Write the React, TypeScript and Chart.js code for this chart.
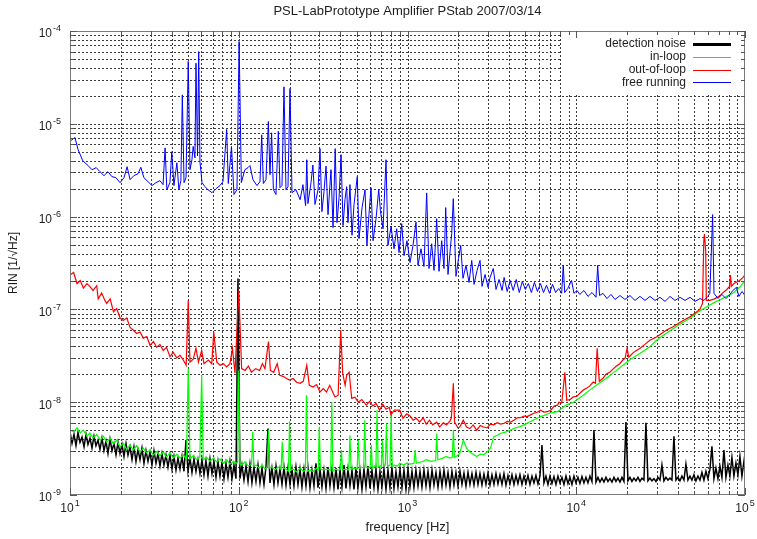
import React, { useEffect, useRef } from 'react';
import { Chart, registerables } from 'chart.js';

Chart.register(...registerables);

// ---- text ----
const chartTitle = 'PSL-LabPrototype Amplifier PStab 2007/03/14';
const xAxisTitle = 'frequency [Hz]';
const yAxisTitle = 'RIN [1/\u221AHz]';
const xDecades = [1, 2, 3, 4, 5]; // 10^1 .. 10^5 Hz
const yDecades = [-9, -8, -7, -6, -5, -4];
const seriesNames = ['detection noise', 'in-loop', 'out-of-loop', 'free running'];
const seriesColors = ['#000000', '#00ff00', '#ff0000', '#0000ff'];

// ---- detection noise: frequency bins [Hz] ----
const detectionFreq = [
  10, 10.28, 10.56, 10.85, 11.15, 11.46, 11.78, 12.11, 12.44, 12.78,
  13.14, 13.5, 13.87, 14.25, 14.65, 15.05, 15.47, 15.9, 16.34, 16.79,
  17.26, 17.74, 18.23, 18.73, 19.25, 19.78, 20.33, 20.89, 21.47, 22.06,
  22.67, 23.3, 23.94, 24.6, 25.29, 25.99, 26.7, 27.44, 28.2, 28.98,
  29.78, 30.6, 31.45, 32.32, 33.22, 34.14, 35.08, 36.05, 37.05, 38.08,
  39.13, 40.21, 41.32, 42.46, 43.64, 44.85, 46.09, 47.37, 48.67, 50.02,
  51.4, 52.82, 54.29, 55.79, 57.33, 58.92, 60.55, 62.23, 63.94, 65.71,
  67.53, 69.4, 71.32, 73.29, 75.32, 77.4, 79.54, 81.74, 84.0, 86.32,
  88.71, 91.16, 93.69, 96.28, 98.94, 101.7, 104.5, 107.4, 110.4, 113.5,
  116.5, 119.7, 123.1, 126.5, 130.0, 133.6, 137.3, 141.1, 145.0, 149.0,
  153.1, 157.3, 161.7, 166.2, 170.8, 175.5, 180.4, 185.4, 190.5, 195.8,
  201.2, 206.8, 212.4, 218.3, 224.4, 230.6, 236.9, 243.5, 250.2, 257.1,
  264.3, 271.6, 279.1, 286.8, 294.8, 303.0, 311.3, 319.9, 328.8, 337.9,
  347.2, 356.8, 366.7, 376.9, 387.3, 398.0, 409.0, 420.3, 431.9, 443.9,
  456.2, 468.8, 481.8, 495.1, 508.8, 522.9, 537.3, 552.2, 567.5, 583.2,
  599.3, 615.9, 632.9, 650.4, 668.4, 686.9, 705.9, 725.4, 745.5, 766.1,
  787.3, 809.1, 831.5, 854.5, 878.1, 902.4, 927.4, 953.1, 979.4, 1006.5,
  1034, 1063, 1092, 1122, 1154, 1186, 1218, 1252, 1287, 1323,
  1359, 1397, 1435, 1475, 1516, 1558, 1601, 1645, 1691, 1738,
  1785, 1834, 1885, 1937, 1991, 2046, 2103, 2161, 2221, 2283,
  2345, 2410, 2477, 2546, 2616, 2688, 2762, 2838, 2917, 2998,
  3081, 3166, 3254, 3344, 3436, 3531, 3629, 3729, 3833, 3939,
  4048, 4160, 4275, 4393, 4514, 4639, 4768, 4900, 5035, 5174,
  5318, 5465, 5616, 5771, 5931, 6095, 6263, 6436, 6615, 6798,
  6986, 7179, 7378, 7582, 7791, 8007, 8229, 8457, 8690, 8930,
  9177, 9431, 9692, 9960, 10236, 10519, 10810, 11109, 11416, 11732,
  12056, 12390, 12733, 13085, 13447, 13819, 14201, 14594, 14997, 15412,
  15838, 16276, 16727, 17190, 17665, 18154, 18655, 19171, 19702, 20247,
  20807, 21383, 21974, 22582, 23206, 23848, 24508, 25186, 25882, 26598,
  27334, 28090, 28867, 29666, 30486, 31329, 32196, 33087, 34002, 34943,
  35909, 36903, 37923, 38972, 40050, 41158, 42296, 43466, 44668, 45904,
  47173, 48478, 49819, 51197, 52613, 54069, 55564, 57102, 58680, 60304,
  61971, 63686, 65447, 67258, 69118, 71031, 72994, 75014, 77088, 79221,
  81412, 83665, 85978, 88357, 90800, 93313, 95893, 98547, 100000,
];
// ---- detection noise: RIN [1/sqrt(Hz)] ----
const detectionRin = [
  4.8e-9, 3.6e-9, 4.5e-9, 3.4e-9, 4.7e-9, 3.7e-9, 4.2e-9, 3.3e-9, 4.5e-9, 3.5e-9,
  4.1e-9, 3.2e-9, 4.3e-9, 3.4e-9, 3.9e-9, 3.1e-9, 4.1e-9, 3.0e-9, 3.8e-9, 2.8e-9,
  4.0e-9, 3.0e-9, 3.6e-9, 2.7e-9, 3.7e-9, 2.8e-9, 3.5e-9, 2.6e-9, 3.6e-9, 2.7e-9,
  3.3e-9, 2.4e-9, 3.3e-9, 2.3e-9, 3.1e-9, 2.4e-9, 3.2e-9, 2.2e-9, 3.0e-9, 2.3e-9,
  2.9e-9, 2.1e-9, 3.0e-9, 2.2e-9, 2.8e-9, 2.05e-9, 2.8e-9, 2.1e-9, 2.7e-9, 2.0e-9,
  2.7e-9, 1.9e-9, 2.6e-9, 1.85e-9, 2.5e-9, 1.9e-9, 2.6e-9, 1.8e-9, 3.9e-9, 1.8e-9,
  2.5e-9, 1.75e-9, 2.45e-9, 1.8e-9, 2.4e-9, 1.7e-9, 2.4e-9, 1.65e-9, 2.35e-9, 1.6e-9,
  2.45e-9, 1.7e-9, 2.3e-9, 1.55e-9, 2.3e-9, 1.6e-9, 2.25e-9, 1.5e-9, 2.2e-9, 1.55e-9,
  2.3e-9, 1.5e-9, 2.1e-9, 1.5e-9, 2.15e-7, 1.5e-9, 2.1e-9, 1.45e-9, 2.05e-9, 1.4e-9,
  2.15e-9, 1.35e-9, 2.0e-9, 1.4e-9, 2.1e-9, 1.35e-9, 1.95e-9, 1.3e-9, 2.0e-9, 5.2e-9,
  1.35e-9, 1.95e-9, 1.3e-9, 2.05e-9, 1.35e-9, 1.9e-9, 1.3e-9, 2.0e-9, 1.28e-9, 1.95e-9,
  1.3e-9, 1.9e-9, 1.25e-9, 2.0e-9, 1.3e-9, 1.9e-9, 1.22e-9, 1.9e-9, 1.25e-9, 2.0e-9,
  1.2e-9, 1.85e-9, 1.25e-9, 2.2e-9, 1.2e-9, 1.9e-9, 1.22e-9, 1.85e-9, 1.18e-9, 2.0e-9,
  1.25e-9, 1.9e-9, 1.2e-9, 1.95e-9, 1.15e-9, 1.85e-9, 1.22e-9, 2.1e-9, 1.18e-9, 1.9e-9,
  1.25e-9, 1.85e-9, 1.15e-9, 1.95e-9, 1.2e-9, 1.85e-9, 1.15e-9, 1.9e-9, 1.22e-9, 2.05e-9,
  1.18e-9, 1.85e-9, 1.2e-9, 1.9e-9, 1.15e-9, 1.8e-9, 1.22e-9, 1.9e-9, 1.15e-9, 1.85e-9,
  1.2e-9, 1.95e-9, 1.18e-9, 1.8e-9, 1.22e-9, 1.9e-9, 1.2e-9, 1.85e-9, 1.15e-9, 1.9e-9,
  1.22e-9, 1.8e-9, 1.2e-9, 1.85e-9, 1.25e-9, 1.8e-9, 1.22e-9, 1.85e-9, 1.25e-9, 1.8e-9,
  1.2e-9, 1.85e-9, 1.28e-9, 1.75e-9, 1.22e-9, 1.8e-9, 1.25e-9, 1.85e-9, 1.28e-9, 1.75e-9,
  1.22e-9, 1.8e-9, 1.28e-9, 1.75e-9, 1.25e-9, 1.8e-9, 1.3e-9, 1.72e-9, 1.25e-9, 1.75e-9,
  1.3e-9, 1.7e-9, 1.28e-9, 1.75e-9, 1.3e-9, 1.7e-9, 1.28e-9, 1.68e-9, 1.3e-9, 1.72e-9,
  1.28e-9, 1.65e-9, 1.3e-9, 1.7e-9, 1.32e-9, 1.65e-9, 1.3e-9, 1.7e-9, 1.28e-9, 1.62e-9,
  1.32e-9, 1.65e-9, 1.3e-9, 1.62e-9, 1.33e-9, 1.65e-9, 1.3e-9, 1.6e-9, 1.33e-9, 1.62e-9,
  1.3e-9, 1.6e-9, 1.35e-9, 1.62e-9, 1.32e-9, 1.6e-9, 3.45e-9, 1.35e-9, 1.6e-9, 1.3e-9,
  1.6e-9, 1.33e-9, 1.58e-9, 1.3e-9, 1.6e-9, 1.35e-9, 1.55e-9, 1.3e-9, 1.6e-9, 1.33e-9,
  1.55e-9, 1.3e-9, 1.6e-9, 1.35e-9, 1.55e-9, 1.33e-9, 1.58e-9, 1.35e-9, 1.55e-9, 1.35e-9,
  1.6e-9, 1.4e-9, 5.0e-9, 1.38e-9, 1.55e-9, 1.38e-9, 1.52e-9, 1.38e-9, 1.55e-9, 1.4e-9,
  1.5e-9, 1.38e-9, 1.55e-9, 1.4e-9, 1.52e-9, 1.38e-9, 1.55e-9, 1.4e-9, 6.1e-9, 1.42e-9,
  1.55e-9, 1.4e-9, 1.52e-9, 1.42e-9, 1.55e-9, 1.4e-9, 1.52e-9, 1.45e-9, 6.0e-9, 1.42e-9,
  1.52e-9, 1.42e-9, 1.5e-9, 1.4e-9, 1.55e-9, 1.45e-9, 2.1e-9, 1.42e-9, 1.55e-9, 1.45e-9,
  1.52e-9, 1.45e-9, 4.3e-9, 1.45e-9, 1.55e-9, 1.42e-9, 1.6e-9, 1.45e-9, 2.15e-9, 1.45e-9,
  1.6e-9, 1.45e-9, 1.65e-9, 1.42e-9, 1.6e-9, 1.45e-9, 1.75e-9, 1.45e-9, 1.8e-9, 1.5e-9,
  1.9e-9, 3.35e-9, 1.5e-9, 1.95e-9, 1.5e-9, 2.05e-9, 1.55e-9, 3.05e-9, 1.55e-9, 2.1e-9,
  1.6e-9, 2.55e-9, 1.6e-9, 2.2e-9, 1.65e-9, 2.6e-9, 1.6e-9, 2.3e-9, 1.75e-9,
];

// ---- in-loop [Hz, RIN] ----
const inLoop: [number, number][] = [
  [10, 5.0e-9], [10.5, 4.8e-9], [11.0, 5.3e-9], [11.5, 4.65e-9], [12.0, 5.0e-9], [12.6, 4.3e-9], [13.1, 4.65e-9], [13.7, 4.1e-9], [14.4, 4.5e-9], [15.1, 3.9e-9],
  [15.8, 4.3e-9], [16.5, 3.7e-9], [17.3, 4.1e-9], [18.1, 3.55e-9], [18.9, 3.9e-9], [19.8, 3.3e-9], [20.7, 3.6e-9], [21.7, 3.1e-9], [22.7, 3.45e-9], [23.7, 3.05e-9],
  [24.8, 3.4e-9], [26.0, 2.9e-9], [27.2, 3.2e-9], [28.5, 2.85e-9], [29.8, 3.05e-9], [31.2, 2.7e-9], [32.6, 2.95e-9], [34.1, 2.65e-9], [35.7, 2.9e-9], [37.3, 2.55e-9],
  [39.1, 2.85e-9], [40.9, 2.5e-9], [42.9, 2.75e-9], [44.9, 2.5e-9], [46.9, 2.7e-9], [49.0, 2.45e-9], [50.2, 2.3e-8], [51.4, 2.45e-9], [53.7, 2.65e-9], [56.2, 2.4e-9],
  [58.8, 2.55e-9], [60.3, 1.95e-8], [61.6, 2.4e-9], [64.5, 2.55e-9], [67.5, 2.3e-9], [70.6, 2.5e-9], [74.0, 2.27e-9], [77.4, 2.45e-9], [81.0, 2.2e-9], [84.8, 2.4e-9],
  [88.7, 2.15e-9], [92.8, 2.3e-9], [97, 2.2e-9], [98.5, 2.25e-9], [100, 2.2e-8], [101.5, 2.15e-9], [104, 2.1e-9], [109, 2.27e-9], [114, 2.05e-9], [119.2, 2.15e-9],
  [121, 4.8e-9], [122.8, 2.05e-9], [127, 2.1e-9], [132, 1.95e-9], [138, 2.1e-9], [143, 1.9e-9], [147.8, 2.0e-9], [150, 5.0e-9], [152.2, 1.95e-9], [157, 2.0e-9],
  [164, 1.86e-9], [171, 2.0e-9], [178.3, 1.9e-9], [181, 3.75e-9], [183.7, 1.95e-9], [190, 1.9e-9], [197, 1.8e-9], [200, 6.2e-9], [203, 1.85e-9], [210, 1.9e-9],
  [220, 1.77e-9], [231, 1.95e-9], [241, 1.8e-9], [248.2, 1.85e-9], [252, 1.19e-8], [255.8, 1.8e-9], [265, 1.86e-9], [276, 1.78e-9], [289, 1.95e-9], [295.5, 1.85e-9],
  [300, 5.45e-9], [304.5, 1.9e-9], [315, 1.86e-9], [330, 1.9e-9], [350.7, 1.85e-9], [356, 1.0e-8], [361.3, 1.8e-9], [375, 1.9e-9], [388, 1.85e-9], [400, 1.9e-9],
  [406, 3.05e-9], [412, 1.86e-9], [427, 1.9e-9], [449, 1.86e-9], [456, 4.4e-9], [463, 1.9e-9], [480, 1.95e-9], [503, 1.9e-9], [511, 3.9e-9], [519, 1.95e-9],
  [535, 2.0e-9], [550, 1.95e-9], [558, 6.4e-9], [566, 2.0e-9], [585, 1.95e-9], [601, 2.0e-9], [610, 3.45e-9], [619, 1.95e-9], [640, 2.05e-9], [650, 2.0e-9],
  [660, 8.2e-9], [670, 2.0e-9], [690, 2.05e-9], [700, 2.0e-9], [710, 3.9e-9], [720, 2.05e-9], [739, 2.1e-9], [750, 5.9e-9], [761, 2.05e-9], [788, 2.1e-9],
  [800, 7.3e-9], [812, 2.0e-9], [840, 2.1e-9], [870, 2.05e-9], [900, 2.2e-9], [950, 2.1e-9], [990, 2.2e-9], [1035, 2.15e-9], [1093, 2.2e-9], [1110, 3.05e-9],
  [1127, 2.2e-9], [1210, 2.27e-9], [1290, 2.4e-9], [1380, 2.3e-9], [1468, 2.35e-9], [1490, 4.6e-9], [1512, 2.4e-9], [1620, 2.5e-9], [1700, 2.6e-9], [1780, 2.5e-9],
  [1842, 2.55e-9], [1870, 5.0e-9], [1898, 2.55e-9], [1940, 2.6e-9], [2040, 2.8e-9], [2140, 3.9e-9], [2240, 3.2e-9], [2340, 2.9e-9], [2450, 2.75e-9], [2570, 2.6e-9],
  [2700, 2.75e-9], [2820, 2.7e-9], [2960, 2.9e-9], [3100, 3.2e-9], [3250, 4.25e-9], [3400, 4.4e-9], [3550, 4.6e-9], [3800, 4.75e-9], [4080, 5.0e-9], [4370, 5.3e-9],
  [4660, 5.45e-9], [5000, 5.8e-9], [5360, 6.2e-9], [5740, 6.6e-9], [6150, 7.0e-9], [6600, 7.3e-9], [6900, 7.6e-9], [7740, 7.9e-9], [8700, 9.3e-9], [9600, 1.0e-8],
  [10800, 1.16e-8], [12000, 1.35e-8], [13400, 1.56e-8], [15000, 1.8e-8], [17000, 2.15e-8], [18900, 2.5e-8], [21000, 2.9e-8], [23800, 3.35e-8], [27000, 3.9e-8], [29900, 4.65e-8],
  [33500, 5.4e-8], [37500, 6.2e-8], [42000, 7.1e-8], [47000, 8.0e-8], [52500, 9.3e-8], [59000, 1.06e-7], [66000, 1.19e-7], [73000, 1.3e-7], [85000, 1.5e-7], [93000, 1.73e-7],
  [100000, 2.05e-7],
];

// ---- out-of-loop [Hz, RIN] ----
const outOfLoop: [number, number][] = [
  [10, 2.35e-7], [10.5, 2.5e-7], [11.0, 1.9e-7], [11.5, 2.05e-7], [12.0, 1.7e-7], [12.6, 1.9e-7], [13.1, 1.77e-7], [13.7, 1.6e-7], [14.4, 1.8e-7], [14.7, 1.3e-7],
  [15.4, 1.5e-7], [16.1, 1.25e-7], [16.5, 1.16e-7], [17.3, 1.3e-7], [18.1, 9.4e-8], [18.9, 1.02e-7], [19.8, 8.1e-8], [20.7, 7.6e-8], [21.7, 8.1e-8], [22.7, 6.4e-8],
  [23.7, 6.0e-8], [24.8, 5.5e-8], [26.0, 5.7e-8], [27.2, 4.9e-8], [28.5, 5.1e-8], [29.8, 4.1e-8], [31.2, 4.5e-8], [32.6, 3.9e-8], [34.1, 4.2e-8], [35.7, 3.6e-8],
  [37.3, 3.9e-8], [39.1, 3.1e-8], [40.9, 3.45e-8], [42.9, 3.0e-8], [44.9, 3.2e-8], [46.9, 2.85e-8], [48.8, 2.5e-8], [50.2, 1.25e-7], [51.4, 2.7e-8], [53.7, 2.9e-8],
  [55.8, 3.8e-8], [57.7, 2.7e-8], [60.3, 3.6e-8], [62.2, 2.6e-8], [66.1, 2.85e-8], [69.2, 2.6e-8], [71.1, 5.7e-8], [74.1, 2.7e-8], [77.6, 2.5e-8], [81.0, 2.6e-8],
  [84.8, 2.4e-8], [88.7, 2.6e-8], [91.8, 3.8e-8], [95.0, 2.05e-8], [100, 1.6e-7], [104, 2.3e-8], [109, 2.2e-8], [114, 2.45e-8], [119, 2.1e-8], [126, 2.3e-8],
  [133, 2.2e-8], [138, 2.6e-8], [143, 2.3e-8], [150, 4.5e-8], [154, 2.2e-8], [161, 2.1e-8], [169, 2.6e-8], [175, 1.95e-8], [183, 1.9e-8], [192, 1.8e-8],
  [200, 1.73e-8], [210, 1.8e-8], [220, 1.64e-8], [231, 1.6e-8], [241, 1.68e-8], [253, 2.5e-8], [262, 1.52e-8], [276, 1.46e-8], [289, 1.55e-8], [303, 1.29e-8],
  [317, 1.4e-8], [331, 1.29e-8], [346, 1.52e-8], [363, 1.25e-8], [372, 1.14e-8], [388, 1.19e-8], [402, 6.0e-8], [413, 2.05e-8], [427, 1.52e-8], [436, 1.95e-8],
  [451, 2.1e-8], [467, 1.1e-8], [488, 1.13e-8], [511, 1.0e-8], [536, 1.07e-8], [570, 9.3e-9], [596, 1.02e-8], [623, 9.1e-9], [652, 9.7e-9], [683, 8.2e-9],
  [713, 9.5e-9], [746, 8.4e-9], [780, 8.8e-9], [798, 7.3e-9], [835, 8.2e-9], [900, 8.2e-9], [940, 6.7e-9], [990, 7.5e-9], [1035, 7.1e-9], [1080, 6.4e-9],
  [1130, 6.7e-9], [1180, 6.1e-9], [1240, 6.8e-9], [1290, 5.8e-9], [1350, 6.4e-9], [1410, 5.7e-9], [1490, 6.1e-9], [1550, 5.4e-9], [1630, 6.0e-9], [1700, 5.7e-9],
  [1780, 6.2e-9], [1820, 6.8e-9], [1870, 1.6e-8], [1900, 6.1e-9], [1990, 5.3e-9], [2040, 5.4e-9], [2140, 6.4e-9], [2240, 5.4e-9], [2340, 5.2e-9], [2450, 5.7e-9],
  [2570, 5.0e-9], [2700, 5.6e-9], [2820, 5.4e-9], [2960, 5.3e-9], [3100, 5.8e-9], [3250, 5.7e-9], [3400, 6.0e-9], [3550, 5.8e-9], [3720, 5.9e-9], [3900, 6.2e-9],
  [4080, 6.1e-9], [4270, 6.4e-9], [4470, 6.8e-9], [4660, 6.8e-9], [4900, 7.1e-9], [5120, 7.0e-9], [5360, 7.3e-9], [5610, 7.6e-9], [5880, 7.8e-9], [6150, 8.2e-9],
  [6430, 7.8e-9], [6730, 7.9e-9], [7050, 8.2e-9], [7400, 9.1e-9], [7740, 9.3e-9], [7910, 1.0e-8], [8200, 9.8e-9], [8560, 2.1e-8], [8780, 1.05e-8], [9200, 1.07e-8],
  [9600, 1.14e-8], [10100, 1.16e-8], [10500, 1.25e-8], [11000, 1.35e-8], [11500, 1.41e-8], [12000, 1.49e-8], [12600, 1.65e-8], [13000, 1.6e-8], [13300, 3.8e-8], [13700, 1.68e-8],
  [14400, 1.81e-8], [15000, 2.0e-8], [15800, 2.1e-8], [16500, 2.27e-8], [17300, 2.45e-8], [18100, 2.6e-8], [18900, 2.85e-8], [19500, 3.0e-8], [20000, 3.8e-8], [20500, 3.05e-8],
  [21700, 3.4e-8], [22700, 3.6e-8], [23800, 3.8e-8], [25500, 4.2e-8], [27300, 4.65e-8], [29900, 5.05e-8], [32000, 5.5e-8], [34300, 6.0e-8], [37500, 6.5e-8], [40000, 7.0e-8],
  [43000, 7.6e-8], [47000, 8.3e-8], [50000, 9.0e-8], [54000, 1.0e-7], [56000, 1.16e-7], [57000, 5.5e-7], [57500, 6.5e-7], [58500, 4.3e-7], [59000, 1.25e-7], [62000, 1.25e-7],
  [66000, 1.3e-7], [71000, 1.4e-7], [73000, 1.48e-7], [78000, 1.64e-7], [81000, 1.77e-7], [82000, 2.35e-7], [83000, 1.77e-7], [86000, 1.9e-7], [93000, 2.05e-7], [97000, 2.2e-7],
  [100000, 2.35e-7],
];

// ---- free running [Hz, RIN] ----
const freeRunning: [number, number][] = [
  [10, 6.5e-6], [10.7, 7.1e-6], [11.15, 5.3e-6], [11.9, 4.0e-6], [12.8, 3.55e-6], [13.5, 3.2e-6], [14.3, 3.37e-6], [15.05, 3.05e-6], [15.9, 2.76e-6], [16.8, 3.05e-6],
  [17.7, 2.7e-6], [18.7, 2.63e-6], [19.8, 2.32e-6], [20.9, 2.63e-6], [21.8, 3.45e-6], [22.7, 2.5e-6], [23.9, 2.76e-6], [25.3, 2.9e-6], [26.3, 3.4e-6], [27.4, 2.63e-6],
  [29.0, 2.38e-6], [30.6, 2.16e-6], [32.3, 2.32e-6], [34.1, 2.44e-6], [35.6, 2.21e-6], [36.6, 5.5e-6], [37.5, 1.95e-6], [39.1, 2.32e-6], [40.1, 5.0e-6], [41.3, 2.16e-6],
  [43.0, 3.8e-6], [44.2, 1.95e-6], [45.4, 2.44e-6], [46.3, 2.05e-5], [47.4, 2.32e-6], [48.7, 2.63e-6], [50.2, 4.7e-5], [51.4, 3.2e-6], [52.8, 4.1e-6], [53.7, 5.7e-6],
  [55.0, 4.3e-6], [55.8, 4.5e-5], [57.0, 4.5e-6], [57.9, 6.0e-5], [58.9, 3.9e-6], [60.6, 2.32e-6], [63.1, 2.1e-6], [65.7, 1.95e-6], [69.4, 1.81e-6], [73.3, 2.0e-6],
  [77.4, 2.16e-6], [80.6, 2.38e-6], [84.8, 8.7e-6], [86.7, 2.27e-6], [90.6, 5.7e-6], [93.7, 1.73e-6], [97.6, 1.95e-6], [100.5, 7.7e-5], [103.6, 2.32e-6], [108.7, 3.2e-6],
  [113.5, 3.37e-6], [116.5, 3.55e-6], [121.4, 2.5e-6], [128.2, 2.16e-6], [133.6, 2.38e-6], [136.8, 7.6e-6], [139.9, 2.27e-6], [145.0, 2.5e-6], [149.8, 1.06e-5], [153.1, 2.83e-6],
  [156.6, 8.0e-6], [160.4, 1.95e-6], [166.2, 1.73e-6], [171.6, 8.3e-6], [175.5, 2.05e-6], [180.4, 2.16e-6], [185.4, 2.5e-5], [190.5, 1.95e-6], [195.8, 2.1e-6], [201.2, 2.4e-5],
  [206.8, 1.81e-6], [218.3, 1.95e-6], [231, 1.52e-6], [240, 2.21e-6], [249, 1.31e-6], [253, 4.1e-6], [257, 1.38e-6], [268, 2.32e-6], [275, 3.6e-6], [283, 1.35e-6],
  [295, 1.95e-6], [303, 5.4e-6], [311, 1.13e-6], [320, 1.86e-6], [329, 3.5e-6], [338, 1.05e-6], [352, 3.2e-6], [362, 7.6e-7], [373, 5.4e-6], [382, 8.6e-7],
  [393, 1.6e-6], [404, 4.65e-6], [415, 8.0e-7], [426, 1.52e-6], [436, 2.1e-6], [444, 8.6e-7], [456, 2.21e-6], [469, 6.3e-7], [482, 1.35e-6], [504, 2.7e-6],
  [516, 5.8e-7], [538, 1.25e-6], [560, 1.95e-6], [575, 4.9e-7], [591, 1.05e-6], [608, 2.05e-6], [625, 5.5e-7], [651, 9.5e-7], [675, 1.95e-6], [692, 1.13e-6],
  [716, 7.4e-7], [746, 4.1e-6], [766, 4.9e-7], [799, 7.8e-7], [832, 4.5e-7], [863, 7.4e-7], [891, 4.1e-7], [924, 8.4e-7], [954, 3.8e-7], [993, 5.5e-7],
  [1035, 3.2e-7], [1078, 4.9e-7], [1123, 8.7e-7], [1154, 2.98e-7], [1202, 4.5e-7], [1252, 2.9e-7], [1299, 1.8e-6], [1341, 2.76e-7], [1391, 5.1e-7], [1436, 2.63e-7],
  [1489, 9.5e-7], [1537, 2.57e-7], [1595, 5.5e-7], [1645, 2.76e-7], [1684, 1.25e-6], [1738, 2.38e-7], [1828, 6.6e-7], [1868, 1.56e-6], [1938, 2.27e-7], [2007, 3.55e-7],
  [2067, 4.9e-7], [2132, 2.16e-7], [2222, 2.98e-7], [2316, 1.95e-7], [2402, 3.37e-7], [2479, 1.86e-7], [2584, 2.63e-7], [2690, 3.37e-7], [2765, 1.77e-7], [2882, 2.38e-7],
  [3000, 1.73e-7], [3085, 2.21e-7], [3224, 2.76e-7], [3347, 1.64e-7], [3488, 2.1e-7], [3635, 1.6e-7], [3737, 2.21e-7], [3895, 1.56e-7], [4059, 2.05e-7], [4231, 1.6e-7],
  [4409, 2.1e-7], [4595, 1.52e-7], [4789, 2.0e-7], [4991, 1.64e-7], [5202, 1.9e-7], [5422, 1.52e-7], [5650, 1.95e-7], [5889, 1.56e-7], [6138, 1.9e-7], [6397, 1.52e-7],
  [6667, 1.82e-7], [6948, 1.49e-7], [7241, 1.86e-7], [7547, 1.52e-7], [7865, 1.68e-7], [8197, 1.49e-7], [8373, 2.98e-7], [8543, 1.52e-7], [8904, 1.68e-7], [9380, 2.05e-7],
  [9690, 1.49e-7], [10100, 1.6e-7], [10500, 1.45e-7], [11110, 1.6e-7], [11740, 1.38e-7], [12400, 1.52e-7], [13090, 1.35e-7], [13400, 2.98e-7], [13740, 1.41e-7], [14400, 1.49e-7],
  [15210, 1.31e-7], [16070, 1.45e-7], [16970, 1.28e-7], [18160, 1.41e-7], [19440, 1.28e-7], [20820, 1.41e-7], [22290, 1.25e-7], [23860, 1.38e-7], [25550, 1.25e-7], [27350, 1.38e-7],
  [29290, 1.25e-7], [31350, 1.35e-7], [33570, 1.22e-7], [35940, 1.38e-7], [38480, 1.25e-7], [41200, 1.35e-7], [44110, 1.25e-7], [47220, 1.35e-7], [50560, 1.22e-7], [54130, 1.31e-7],
  [57100, 1.25e-7], [60250, 1.38e-7], [61900, 1.49e-7], [64300, 1.05e-6], [65500, 1.49e-7], [69180, 1.31e-7], [73000, 1.45e-7], [77100, 1.31e-7], [81400, 1.45e-7], [84700, 1.6e-7],
  [89000, 1.73e-7], [92000, 1.38e-7], [96000, 1.56e-7], [100000, 1.41e-7],
];

// ---- drawing helpers ----
const FONT = '"Liberation Sans", Arial, Helvetica, sans-serif';
const TEXT_COLOR = '#1e1e1e';

function decadeGrid(exps: number[]): { value: number; major: boolean }[] {
  const out: { value: number; major: boolean }[] = [];
  for (let i = 0; i < exps.length; i++) {
    const base = Math.pow(10, exps[i]);
    if (i === exps.length - 1) {
      out.push({ value: base, major: true });
      break;
    }
    for (let m = 1; m <= 9; m++) out.push({ value: m * base, major: m === 1 });
  }
  return out;
}

function drawPower(ctx: CanvasRenderingContext2D, exp: number, x: number, y: number, align: 'right' | 'center') {
  const base = '10';
  const sup = String(exp);
  ctx.font = `12px ${FONT}`;
  const bw = ctx.measureText(base).width;
  ctx.font = `9px ${FONT}`;
  const sw = ctx.measureText(sup).width;
  const total = bw + 1 + sw;
  const x0 = align === 'right' ? x - total : x - total / 2;
  ctx.textAlign = 'left';
  ctx.textBaseline = 'middle';
  ctx.font = `12px ${FONT}`;
  ctx.fillText(base, x0, y);
  ctx.font = `9px ${FONT}`;
  ctx.fillText(sup, x0 + bw + 1, y - 5);
}

const gridPlugin = {
  id: 'logGrid',
  beforeDraw(chart: any) {
    const { ctx, width, height } = chart;
    ctx.save();
    ctx.fillStyle = '#ffffff';
    ctx.fillRect(0, 0, width, height);
    ctx.restore();
  },
  beforeDatasetsDraw(chart: any) {
    const { ctx, chartArea: a, scales } = chart;
    ctx.save();
    ctx.strokeStyle = '#3c3c3c';
    ctx.lineWidth = 1;
    ctx.setLineDash([2, 2]);
    for (const t of decadeGrid(xDecades)) {
      const px = Math.round(scales.x.getPixelForValue(t.value)) + 0.5;
      if (px <= a.left + 1 || px >= a.right - 1) continue;
      ctx.beginPath();
      ctx.moveTo(px, a.top);
      ctx.lineTo(px, a.bottom);
      ctx.stroke();
    }
    for (const t of decadeGrid(yDecades)) {
      const py = Math.round(scales.y.getPixelForValue(t.value)) + 0.5;
      if (py <= a.top + 1 || py >= a.bottom - 1) continue;
      ctx.beginPath();
      ctx.moveTo(a.left, py);
      ctx.lineTo(a.right, py);
      ctx.stroke();
    }
    ctx.setLineDash([]);
    // key box is kept clear of the grid
    ctx.fillStyle = '#ffffff';
    ctx.fillRect(a.right - 183, a.top + 1, 182, 61);
    ctx.restore();
  },
  afterDraw(chart: any) {
    const { ctx, chartArea: a, scales } = chart;
    ctx.save();

    // frame
    ctx.strokeStyle = '#7a7a7a';
    ctx.lineWidth = 1;
    ctx.strokeRect(Math.round(a.left) + 0.5, Math.round(a.top) + 0.5, Math.round(a.right - a.left) - 1, Math.round(a.bottom - a.top) - 1);

    // inward tick marks on all four sides
    ctx.strokeStyle = '#555555';
    for (const t of decadeGrid(xDecades)) {
      const px = Math.round(scales.x.getPixelForValue(t.value)) + 0.5;
      const len = t.major ? 7 : 4;
      ctx.beginPath();
      ctx.moveTo(px, a.bottom);
      ctx.lineTo(px, a.bottom - len);
      ctx.moveTo(px, a.top);
      ctx.lineTo(px, a.top + len);
      ctx.stroke();
    }
    for (const t of decadeGrid(yDecades)) {
      const py = Math.round(scales.y.getPixelForValue(t.value)) + 0.5;
      const len = t.major ? 7 : 4;
      ctx.beginPath();
      ctx.moveTo(a.left, py);
      ctx.lineTo(a.left + len, py);
      ctx.moveTo(a.right, py);
      ctx.lineTo(a.right - len, py);
      ctx.stroke();
    }

    // tick labels
    ctx.fillStyle = TEXT_COLOR;
    for (const e of yDecades) {
      const py = scales.y.getPixelForValue(Math.pow(10, e));
      drawPower(ctx, e, a.left - 9, py + 3, 'right');
    }
    for (const e of xDecades) {
      const px = scales.x.getPixelForValue(Math.pow(10, e));
      drawPower(ctx, e, px, a.bottom + 14, 'center');
    }

    // titles
    ctx.textAlign = 'center';
    ctx.textBaseline = 'middle';
    ctx.font = `13px ${FONT}`;
    ctx.fillText(chartTitle, (a.left + a.right) / 2, 11);
    ctx.fillText(xAxisTitle, (a.left + a.right) / 2, a.bottom + 32);
    ctx.save();
    ctx.translate(14, (a.top + a.bottom) / 2);
    ctx.rotate(-Math.PI / 2);
    ctx.font = `12px ${FONT}`;
    ctx.fillText(yAxisTitle, 0, 0);
    ctx.restore();

    // key
    ctx.font = `12px ${FONT}`;
    ctx.textAlign = 'right';
    for (let i = 0; i < seriesNames.length; i++) {
      const y = a.top + 13 + i * 12.8;
      ctx.fillStyle = TEXT_COLOR;
      ctx.fillText(seriesNames[i], a.right - 59, y);
      ctx.strokeStyle = seriesColors[i];
      ctx.lineWidth = i === 0 ? 3 : 1;
      ctx.beginPath();
      ctx.moveTo(a.right - 52, Math.round(y) + 0.5);
      ctx.lineTo(a.right - 14, Math.round(y) + 0.5);
      ctx.stroke();
    }
    ctx.restore();
  },
};

export default function App() {
  const canvasRef = useRef<HTMLCanvasElement | null>(null);

  useEffect(() => {
    const canvas = canvasRef.current;
    if (!canvas) return;
    const toPoints = (pts: [number, number][]) => pts.map(([x, y]) => ({ x, y }));
    const chart = new Chart(canvas, {
      type: 'line',
      data: {
        datasets: [
          {
            label: seriesNames[3],
            data: toPoints(freeRunning),
            borderColor: seriesColors[3],
            borderWidth: 1,
            pointRadius: 0,
            order: 1,
          },
          {
            label: seriesNames[2],
            data: toPoints(outOfLoop),
            borderColor: seriesColors[2],
            borderWidth: 1.2,
            pointRadius: 0,
            order: 2,
          },
          {
            label: seriesNames[1],
            data: toPoints(inLoop),
            borderColor: seriesColors[1],
            borderWidth: 1.2,
            pointRadius: 0,
            order: 3,
          },
          {
            label: seriesNames[0],
            data: detectionFreq.map((f, i) => ({ x: f, y: detectionRin[i] })),
            borderColor: seriesColors[0],
            borderWidth: 1.5,
            pointRadius: 0,
            order: 4,
          },
        ],
      },
      options: {
        responsive: false,
        maintainAspectRatio: false,
        animation: false,
        devicePixelRatio: 1,
        layout: { padding: { top: 31, right: 12, left: 0, bottom: 0 } },
        elements: { line: { tension: 0 }, point: { radius: 0 } },
        plugins: {
          legend: { display: false },
          tooltip: { enabled: false },
          title: { display: false },
        },
        scales: {
          x: {
            type: 'logarithmic',
            min: 10,
            max: 1e5,
            grid: { display: false },
            border: { display: false },
            ticks: { display: false },
            afterFit: (s: any) => {
              s.height = 44;
            },
          },
          y: {
            type: 'logarithmic',
            min: 1e-9,
            max: 1e-4,
            grid: { display: false },
            border: { display: false },
            ticks: { display: false },
            afterFit: (s: any) => {
              s.width = 70;
            },
          },
        },
      },
      plugins: [gridPlugin],
    } as any);
    return () => chart.destroy();
  }, []);

  return (
    <div style={{ position: 'absolute', left: 0, top: 0, width: 757, height: 539, background: '#fff' }}>
      <canvas ref={canvasRef} width={757} height={539} style={{ display: 'block' }} />
    </div>
  );
}
